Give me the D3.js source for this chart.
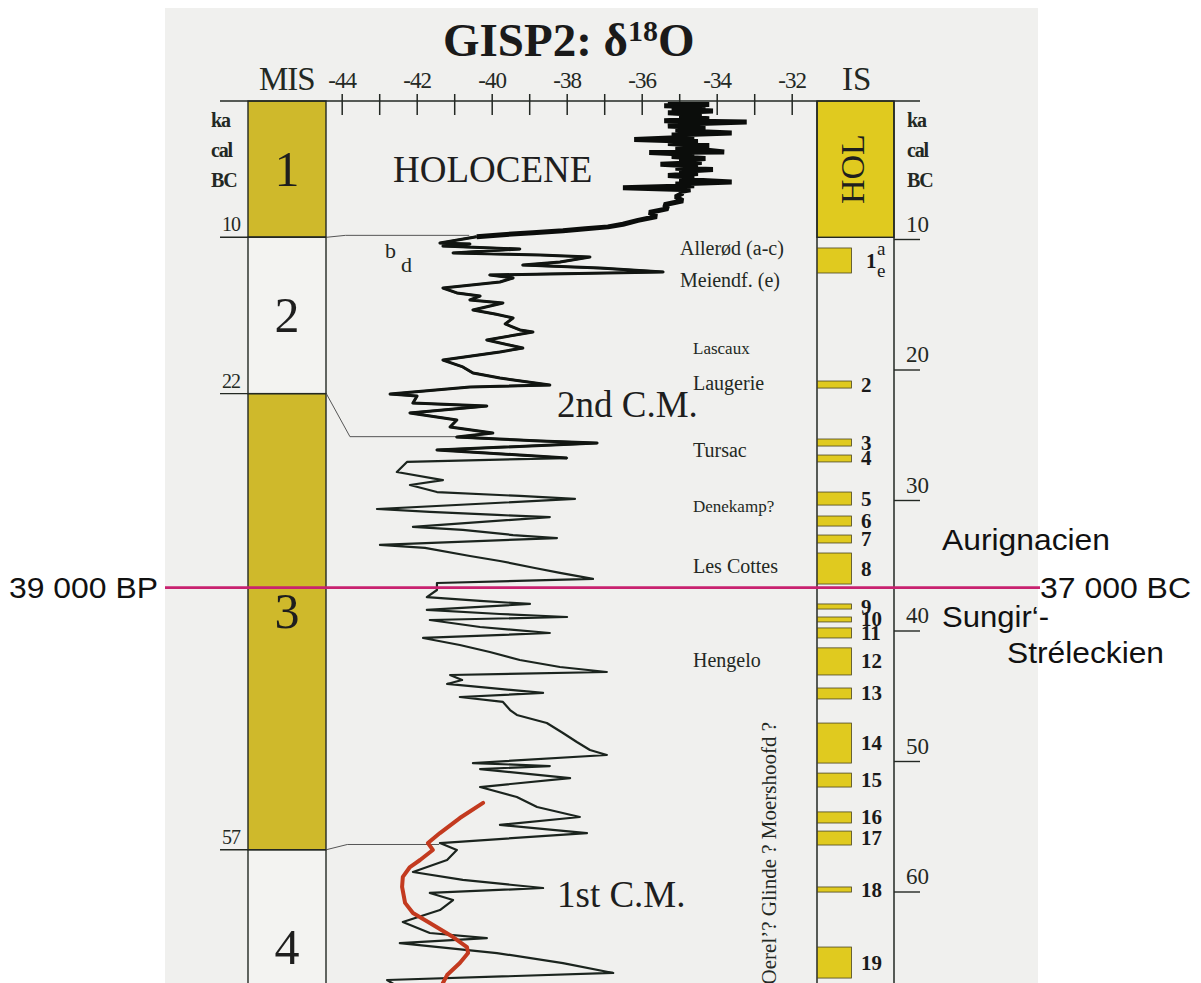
<!DOCTYPE html>
<html>
<head>
<meta charset="utf-8">
<script src="https://cdn.jsdelivr.net/npm/d3@7"></script>
<style>
  body { margin: 0; background: #fff; }
</style>
</head>
<body>
<div id="chart"></div>
<script>
// GISP2 d18O record, age in ka cal BC vs per mil
const holoceneSeries = [
  [-0.4,-34.8],[-0.3,-35.3],[-0.2,-34.2],[-0.1,-35.4],[0.0,-34.3],[0.15,-35.2],[0.3,-34.1],
  [0.45,-35.3],[0.6,-34.4],[0.75,-35.0],[0.9,-34.2],[1.05,-35.4],[1.15,-33.2],[1.3,-34.9],
  [1.45,-35.3],[1.6,-34.3],[1.75,-35.1],[1.9,-34.4],[2.0,-33.6],[2.15,-35.2],[2.3,-34.6],
  [2.5,-36.2],[2.65,-34.5],[2.8,-35.3],[2.95,-34.2],[3.1,-35.1],[3.25,-34.5],[3.45,-33.8],
  [3.5,-35.8],[3.65,-34.6],[3.8,-35.2],[3.95,-34.3],[4.1,-35.0],[4.25,-34.4],[4.4,-35.5],
  [4.55,-34.5],[4.7,-35.1],[4.8,-34.1],[4.95,-35.0],[5.1,-34.5],[5.25,-35.3],[5.4,-34.6],
  [5.55,-35.0],[5.75,-33.6],[5.9,-35.1],[6.05,-34.6],[6.2,-36.5],[6.35,-34.7],[6.5,-35.0],
  [6.6,-34.9],[6.9,-35.1],[7.2,-34.9],[7.5,-35.4],[7.8,-35.3],[8.1,-35.8],[8.4,-35.6],
  [8.7,-36.1],[9.0,-36.5],[9.2,-36.9],[9.35,-37.5],[9.5,-38.1],[9.65,-38.9],[9.8,-39.7],[9.95,-40.4]
];

const glacialSeries = [
  [9.95,-40.4],[10.44,-41.38],[10.51,-40.58],[10.67,-41.30],[10.90,-39.25],[11.20,-41.03],
  [11.36,-38.71],[11.51,-37.38],[11.90,-38.18],[12.13,-39.17],[12.36,-37.11],[12.66,-35.43],
  [12.89,-40.05],[13.12,-39.43],[13.43,-39.78],[13.89,-41.30],[14.27,-40.93],[14.51,-40.31],
  [14.81,-40.58],[15.04,-39.70],[15.58,-40.50],[15.89,-39.91],[16.19,-39.43],[16.65,-39.64],
  [17.11,-39.25],[17.27,-38.90],[17.88,-40.13],[18.50,-39.17],[18.80,-39.78],[19.42,-41.30],
  [19.95,-40.77],[20.41,-40.50],[20.80,-39.78],[21.34,-38.45],[21.49,-40.58],[22.03,-42.71],
  [22.18,-41.99],[22.72,-42.10],[22.95,-40.13],[23.48,-42.18],[24.02,-40.93],[24.56,-41.11],
  [25.02,-39.97],[25.33,-40.93],[25.63,-38.71],[25.79,-37.19],[26.32,-41.46],[26.71,-39.25],
  [26.94,-37.99],[27.24,-42.26],[28.01,-42.53],[28.63,-41.30],[29.01,-42.18],[29.55,-41.46],
  [29.85,-39.25],[30.08,-37.78],[30.85,-43.06],[31.08,-41.65],[31.31,-39.86],[31.47,-38.45],
  [32.23,-42.10],[32.46,-40.77],[32.85,-39.43],[33.08,-38.26],[33.61,-42.98],[33.84,-41.78],
  [34.46,-40.58],[34.84,-39.78],[35.38,-38.85],[35.76,-38.18],[36.22,-37.30],[36.53,-41.46],
  [37.07,-41.46],[37.61,-41.73],[37.91,-40.31],[38.14,-38.98],[38.60,-41.73],[38.91,-39.78],
  [39.14,-37.99],[39.37,-41.65],[39.91,-40.31],[40.37,-38.45],[40.75,-41.83],[41.29,-40.85],
  [41.83,-40.05],[42.44,-39.25],[42.98,-38.18],[43.36,-36.93],[43.59,-41.11],[43.98,-40.79],
  [44.28,-41.19],[44.97,-38.63],[45.28,-40.85],[45.66,-39.70],[46.28,-39.51],[46.66,-39.33],
  [47.28,-38.53],[48.04,-38.10],[48.73,-37.73],[49.35,-37.38],[49.73,-36.93],[50.35,-40.50],
  [50.58,-38.45],[50.81,-40.31],[51.50,-37.91],[52.19,-40.31],[52.95,-39.33],[53.72,-38.79],
  [54.49,-37.65],[55.10,-39.78],[55.72,-37.46],[56.49,-41.38],[57.02,-40.93],[57.79,-41.19],
  [58.71,-42.10],[59.32,-40.77],[59.94,-38.63],[60.32,-41.65],[60.86,-41.03],[61.63,-41.38],
  [62.55,-42.37],[63.39,-41.65],[63.78,-40.13],[64.17,-42.45],[64.93,-39.86],[65.70,-38.10],
  [66.46,-36.76],[67.00,-42.79],[67.46,-42.53]
];

// red overlay curve (1st C.M.)
const redSeries = [
  [53.41,-40.23],[54.57,-40.85],[55.72,-41.38],[56.49,-41.70],[57.02,-41.57],[57.79,-41.91],
  [58.33,-42.18],[59.09,-42.37],[59.86,-42.39],[61.08,-42.31],[61.86,-42.10],[62.62,-41.65],
  [63.70,-41.03],[64.47,-40.66],[64.93,-40.63],[65.70,-40.85],[66.62,-41.19],[67.23,-41.30]
];

// marine isotope stages
const misBounds = [10, 22, 57];
const misNames = ["1", "2", "3", "4"];
const misFilled = [true, false, true, false];
const misLabelKa = [6.1, 17.3, 40.0, 65.8];

// interstadials
const isNames = ["1","2","3","4","5","6","7","8","9","10","11","12","13","14","15","16","17","18","19"];
const isStart = [10.82,21.03,25.48,26.71,29.55,31.39,32.85,34.23,38.14,39.14,39.98,41.51,44.59,47.28,51.12,54.10,55.57,59.86,64.47];
const isEnd   = [12.74,21.57,26.02,27.24,30.55,32.16,33.46,36.61,38.53,39.52,40.75,43.59,45.43,50.35,52.19,54.95,56.64,60.25,66.85];
const holoceneEnd = 10;

const siteNames = ["Allerød (a-c)", "Meiendf. (e)", "Lascaux", "Laugerie", "Tursac", "Denekamp?", "Les Cottes", "Hengelo"];
const siteKa = [11.36, 13.81, 18.96, 21.72, 26.86, 31.09, 35.76, 42.98];

const axisTicks = [-44,-43,-42,-41,-40,-39,-38,-37,-36,-35,-34,-33,-32];
const rightTicks = [10, 20, 30, 40, 50, 60];

// correlation lines [value, ka]
const corrLines = [
  [[-44.41, 10], [-43.9, 9.85], [-40.6, 9.85]],
  [[-44.41, 22], [-43.78, 25.3], [-40.85, 25.3]],
  [[-44.41, 57], [-43.85, 56.6], [-41.4, 56.6]]
];

const markerKa = 37;
const markerLeft = "39 000 BP";
const markerRight = "37 000 BC";
const cultures = ["Aurignacien", "Sungir‘-", "Stréleckien"];

// ---------------- drawing ----------------
const W = 1201, H = 983;
const serif = "'Liberation Serif', 'Times New Roman', serif";
const sans = "'Liberation Sans', Arial, sans-serif";
const ink = "#232823";
const misYellow = "#cfb92b";
const isYellow = "#e0ca1f";

const svg = d3.select("#chart").append("svg")
    .attr("width", W)
    .attr("height", H);

svg.append("rect").attr("width", W).attr("height", H).attr("fill", "#fff");
svg.append("rect")
    .attr("x", 165).attr("y", 8).attr("width", 873).attr("height", H - 8)
    .attr("fill", "#f0f0ee");

const x = d3.scaleLinear().domain([-44, -32]).range([341.7, 791.7]);
const y = d3.scaleLinear().domain([0, 60]).range([107, 888.8]);
const yR = d3.scaleLinear().domain([0, 60]).range([109, 892]);

const topY = 101;
const topKa = y.invert(topY);
const botKa = y.invert(H + 5);

const misX0 = 248, misX1 = 326;
const isX0 = 817, isX1 = 894;

// title
const title = svg.append("text")
    .attr("x", 443).attr("y", 56)
    .attr("font-family", serif).attr("font-weight", "bold")
    .attr("font-size", 47).attr("fill", "#1a1a1a");
title.append("tspan").text("GISP2: δ");
title.append("tspan").attr("font-size", 30).attr("dy", -15).text("18");
title.append("tspan").attr("dy", 15).text("O");

svg.append("text").attr("x", 259).attr("y", 90)
    .attr("font-family", serif).attr("font-size", 33).attr("letter-spacing", -1)
    .attr("fill", ink).text("MIS");
svg.append("text").attr("x", 842).attr("y", 90)
    .attr("font-family", serif).attr("font-size", 33)
    .attr("fill", ink).text("IS");

// MIS column
const misEdges = [topKa, ...misBounds, botKa];
svg.selectAll(".mis")
    .data(misNames)
    .enter().append("rect")
    .attr("class", "mis")
    .attr("x", misX0).attr("width", misX1 - misX0)
    .attr("y", (d, i) => y(misEdges[i]))
    .attr("height", (d, i) => y(misEdges[i + 1]) - y(misEdges[i]))
    .attr("fill", (d, i) => misFilled[i] ? misYellow : "#f3f3f1")
    .attr("stroke", ink).attr("stroke-width", 1.4);

svg.selectAll(".misLabel")
    .data(misNames)
    .enter().append("text")
    .attr("x", (misX0 + misX1) / 2)
    .attr("y", (d, i) => y(misLabelKa[i]))
    .attr("text-anchor", "middle")
    .attr("font-family", serif).attr("font-size", 50)
    .attr("fill", "#1e1e1e")
    .text(d => d);

// left age marks
svg.selectAll(".bLine")
    .data(misBounds)
    .enter().append("line")
    .attr("x1", 220).attr("x2", misX1)
    .attr("y1", d => y(d)).attr("y2", d => y(d))
    .attr("stroke", ink).attr("stroke-width", 1.4);
svg.selectAll(".bLabel")
    .data(misBounds)
    .enter().append("text")
    .attr("x", 222).attr("y", d => y(d) - 6)
    .attr("font-family", serif).attr("font-size", 20).attr("letter-spacing", -1)
    .attr("fill", ink).text(d => d);

// ka cal BC labels on both sides
["ka", "cal", "BC"].forEach((t, i) => {
    [211, 907].forEach(px => {
        svg.append("text")
            .attr("x", px).attr("y", 127 + i * 30)
            .attr("font-family", serif).attr("font-size", 20)
            .attr("font-weight", "bold").attr("letter-spacing", -1.2)
            .attr("fill", ink).text(t);
    });
});

// IS column
svg.append("rect")
    .attr("x", isX0).attr("y", topY)
    .attr("width", isX1 - isX0).attr("height", y(holoceneEnd) - topY)
    .attr("fill", isYellow).attr("stroke", ink).attr("stroke-width", 1.4);
svg.append("text")
    .attr("transform", `translate(864,${(topY + y(holoceneEnd)) / 2}) rotate(-90)`)
    .attr("text-anchor", "middle")
    .attr("font-family", serif).attr("font-size", 34)
    .attr("fill", "#1e1e1e").text("HOL");

[isX0, isX1].forEach(px => {
    svg.append("line")
        .attr("x1", px).attr("x2", px).attr("y1", topY).attr("y2", H)
        .attr("stroke", ink).attr("stroke-width", 1.5);
});

svg.selectAll(".isBar")
    .data(isNames)
    .enter().append("rect")
    .attr("class", "isBar")
    .attr("x", isX0 + 0.5).attr("width", 34)
    .attr("y", (d, i) => y(isStart[i]))
    .attr("height", (d, i) => y(isEnd[i]) - y(isStart[i]))
    .attr("fill", isYellow).attr("stroke", "#4a4520").attr("stroke-width", 0.8);

svg.selectAll(".isLabel")
    .data(isNames.slice(1))
    .enter().append("text")
    .attr("x", 861)
    .attr("y", (d, i) => y((isStart[i + 1] + isEnd[i + 1]) / 2) + 7)
    .attr("font-family", serif).attr("font-weight", "bold").attr("font-size", 21)
    .attr("fill", "#1a1a1a").text(d => d);

// IS 1 with a / e
const is1Mid = y((isStart[0] + isEnd[0]) / 2);
svg.append("text").attr("x", 866).attr("y", is1Mid + 8)
    .attr("font-family", serif).attr("font-weight", "bold").attr("font-size", 21)
    .attr("fill", "#1a1a1a").text("1");
svg.append("text").attr("x", 877).attr("y", is1Mid - 5)
    .attr("font-family", serif).attr("font-size", 19).attr("fill", "#1a1a1a").text("a");
svg.append("text").attr("x", 877).attr("y", is1Mid + 17)
    .attr("font-family", serif).attr("font-size", 19).attr("fill", "#1a1a1a").text("e");

// right age axis
svg.selectAll(".rTick")
    .data(rightTicks)
    .enter().append("line")
    .attr("x1", isX1).attr("x2", 920)
    .attr("y1", d => yR(d)).attr("y2", d => yR(d))
    .attr("stroke", ink).attr("stroke-width", 1.4);
svg.selectAll(".rLabel")
    .data(rightTicks)
    .enter().append("text")
    .attr("x", 906).attr("y", d => yR(d) - 8)
    .attr("font-family", serif).attr("font-size", 23)
    .attr("fill", ink).text(d => d);

// top axis
svg.append("line")
    .attr("x1", 220).attr("x2", 920).attr("y1", topY).attr("y2", topY)
    .attr("stroke", ink).attr("stroke-width", 1.6);

const axisG = svg.append("g")
    .attr("transform", `translate(0,${topY})`)
    .call(d3.axisTop(x).tickValues(axisTicks).tickSize(0)
        .tickFormat(d => d % 2 === 0 ? `${d}` : ""));
axisG.select(".domain").remove();
axisG.selectAll(".tick line")
    .attr("y1", -7).attr("y2", 14)
    .attr("stroke", ink).attr("stroke-width", 1.5);
axisG.selectAll(".tick text")
    .attr("y", -13)
    .attr("font-family", serif).attr("font-size", 23).attr("letter-spacing", -1)
    .attr("fill", ink);

// correlation lines
const corrLine = d3.line().x(d => x(d[0])).y(d => y(d[1]));
svg.selectAll(".corr")
    .data(corrLines)
    .enter().append("path")
    .attr("d", corrLine)
    .attr("fill", "none").attr("stroke", "#555").attr("stroke-width", 1);

// curves
svg.append("clipPath").attr("id", "plotClip")
    .append("rect").attr("x", misX1 + 1).attr("y", topY + 1)
    .attr("width", isX0 - misX1 - 2).attr("height", H - topY);

const plot = svg.append("g").attr("clip-path", "url(#plotClip)");
const isoLine = d3.line().x(d => x(d[1])).y(d => y(d[0]));

plot.append("path")
    .attr("d", isoLine(glacialSeries))
    .attr("fill", "none").attr("stroke", "#1b241e").attr("stroke-width", 2.2)
    .attr("stroke-linejoin", "round");
// darker, heavier section where the record is densest
plot.append("path")
    .attr("d", isoLine(glacialSeries.filter(d => d[0] < 27)))
    .attr("fill", "none").attr("stroke", "#111511").attr("stroke-width", 3)
    .attr("stroke-linejoin", "round");
plot.append("path")
    .attr("d", isoLine(holoceneSeries))
    .attr("fill", "none").attr("stroke", "#0b0d0b").attr("stroke-width", 5)
    .attr("stroke-linejoin", "bevel");
plot.append("path")
    .attr("d", isoLine(redSeries))
    .attr("fill", "none").attr("stroke", "#c33a1f").attr("stroke-width", 4)
    .attr("stroke-linecap", "round").attr("stroke-linejoin", "round");

// text in plot
const bigText = [["HOLOCENE", 393, 182], ["2nd C.M.", 557, 417], ["1st C.M.", 557, 907]];
bigText.forEach(t => {
    svg.append("text").attr("x", t[1]).attr("y", t[2])
        .attr("font-family", serif).attr("font-size", 37)
        .attr("fill", "#1e1e1e").text(t[0]);
});
svg.append("text").attr("x", 385).attr("y", 258)
    .attr("font-family", serif).attr("font-size", 22).attr("fill", ink).text("b");
svg.append("text").attr("x", 401).attr("y", 272)
    .attr("font-family", serif).attr("font-size", 22).attr("fill", ink).text("d");

const smallSites = new Set(["Lascaux", "Denekamp?"]);
svg.selectAll(".site")
    .data(siteNames)
    .enter().append("text")
    .attr("x", (d, i) => i < 2 ? 680 : 693)
    .attr("y", (d, i) => y(siteKa[i]))
    .attr("font-family", serif)
    .attr("font-size", d => smallSites.has(d) ? 17 : 20)
    .attr("fill", ink).text(d => d);

svg.append("text")
    .attr("transform", "translate(776,722) rotate(-90)")
    .attr("text-anchor", "end")
    .attr("font-family", serif).attr("font-size", 21)
    .attr("fill", ink).text("Oerel’? Glinde ? Moershoofd ?");

// marker line and outer labels
svg.append("line")
    .attr("x1", 165).attr("x2", 1040)
    .attr("y1", y(markerKa) - 1.5).attr("y2", y(markerKa) - 1.5)
    .attr("stroke", "#c8226f").attr("stroke-width", 2.6);

const outer = [
  [markerLeft, 9, 598, 149],
  [markerRight, 1040, 598, 151],
  [cultures[0], 942, 550, 168],
  [cultures[1], 942, 627, 107],
  [cultures[2], 1007, 663, 157]
];
outer.forEach(o => {
    svg.append("text").attr("x", o[1]).attr("y", o[2])
        .attr("font-family", sans).attr("font-size", 29)
        .attr("textLength", o[3]).attr("lengthAdjust", "spacingAndGlyphs")
        .attr("fill", "#111").text(o[0]);
});
</script>
</body>
</html>
